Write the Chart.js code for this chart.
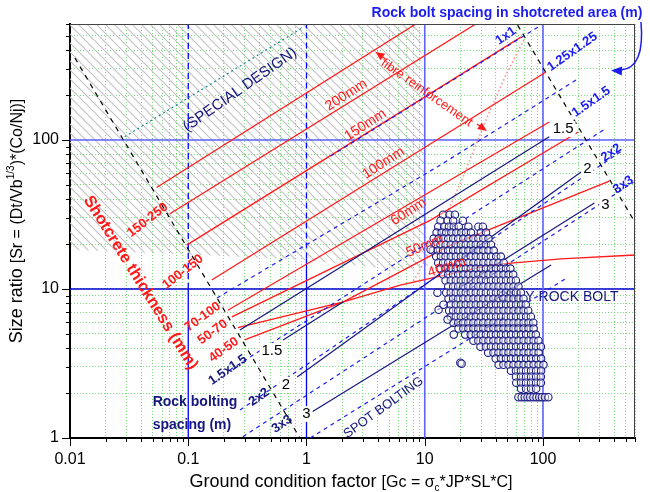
<!DOCTYPE html>
<html><head><meta charset="utf-8">
<script src="https://cdn.jsdelivr.net/npm/chart.js@4.4.0/dist/chart.umd.min.js"></script>
<style>html,body{margin:0;padding:0;background:#fff}</style>
</head><body>
<canvas id="c" width="650" height="492"></canvas>
<script>
// ---------------- axis ticks ----------------
const xTickLabels = ['0.01', '0.1', '1', '10', '100'];
const yTickLabels = ['1', '10', '100'];
const xExponents = [-2, -1, 0, 1, 2];
const yExponents = [0, 1, 2];
const minorSteps = [1, 2, 3, 4, 5, 6, 7, 8, 9];

// ---------------- boundaries ----------------
const leftBoundary = [[0.011, 355], [0.88, 1.0]];
const rightBoundary = [[61, 590], [600, 28]];
const specialDesignEdge = [[0.029, 105], [0.92, 565]];
const fibreEdge = [[69, 469], [48.6, 273], [32.9, 136], [21.4, 58.2], [15.6, 32.9], [11.2, 18.3], [7.9, 11.0]];
const hatchArea = [[0.01, 600], [9.2, 600], [10.6, 14], [6.24, 13.4], [0.88, 15.7], [0.125, 16.9], [0.01, 18.3], [0.01, 600]];

// ---------------- shotcrete thickness lines ----------------
const shotcreteTop = [[0.054, 48], [8.4, 600]];
const shotcrete200 = [[0.07, 32], [27, 600]];
const shotcrete150 = [[0.097, 19.7], [65, 490]];
const shotcrete100 = [[0.158, 11.5], [106, 286]];
const shotcrete60a = [[0.216, 7.2], [113, 132]];
const shotcrete60b = [[0.234, 6.5], [11.2, 29], [199, 113]];
const shotcrete50 = [[0.263, 5.5], [2.05, 8.2], [16.6, 19.7], [364, 53]];
const shotcrete40 = [[0.30, 4.55], [2.05, 8.2], [6.2, 10.6], [36, 14.5], [142, 15.9], [600, 16.9]];

// ---------------- rock bolt lines ----------------
const boltSolid15 = [[0.274, 5.3], [113, 105]];
const boltSolid15b = [[0.634, 4.55], [2.05, 8.2]];
const boltSolid2 = [[0.834, 2.57], [210, 61]];
const boltSolid3a = [[1.075, 1.47], [117, 14.5]];
const boltSolid3b = [[18.3, 9.85], [272, 37.8]];
const boltDash1x1 = [[1.6, 78], [100, 600]];
const boltDash125 = [[0.175, 8.7], [13.6, 68], [191, 253]];
const boltDash15 = [[0.225, 2.86], [343, 120]];
const boltDash2 = [[0.274, 1.54], [479, 86]];
const boltDash3 = [[0.29, 1.02], [582, 52]];
const boltDashSpot = [[1.075, 1.0], [163, 12]];

// ---------------- case records (Gc, Sr) ----------------
const cloudRowY = [31.5, 28.7, 26.2, 23.9, 21.8, 19.8, 18.1, 16.5, 15.0, 13.7, 12.5, 11.4, 10.4, 9.44, 8.61, 7.85, 7.15, 6.52, 5.94, 5.42, 4.94, 4.50, 4.10, 3.74, 3.41, 3.10, 2.83, 2.58, 2.35, 2.14, 1.88];
const cloudRowX = [
  [14.3, 16.2, 18.0],
  [13.6, 15.6, 17.4, 21.0],
  [13.0, 14.6, 16.0, 17.6, 19.4, 23.4, 28.4, 31.0],
  [12.6, 13.9, 15.2, 16.8, 18.5, 20.4, 22.3, 24.6, 29.8, 33.0],
  [11.9, 13.1, 14.4, 15.8, 17.4, 19.2, 21.2, 23.4, 25.8, 28.4, 31.3, 34.6],
  [12.4, 13.6, 15.0, 16.6, 18.3, 20.2, 22.2, 24.5, 27.0, 29.8, 32.9, 36.3],
  [11.7, 12.9, 14.3, 15.8, 17.4, 19.2, 21.2, 23.4, 25.8, 28.4, 31.3, 34.6, 38.3],
  [12.5, 13.7, 15.0, 16.6, 18.3, 20.2, 22.2, 24.5, 27.0, 29.8, 32.9, 36.3, 40.2, 44.0],
  [13.0, 14.3, 15.8, 17.4, 19.2, 21.2, 23.4, 25.8, 28.4, 31.3, 34.6, 38.1, 42.0, 46.5],
  [13.6, 15.0, 16.6, 18.3, 20.2, 22.2, 24.5, 27.0, 29.8, 32.9, 36.3, 40.0, 44.1, 48.6, 53.0],
  [14.3, 15.8, 17.4, 19.2, 21.2, 23.4, 25.8, 28.4, 31.3, 34.6, 38.1, 42.0, 46.3, 51.1, 56.0],
  [15.0, 16.6, 18.3, 20.2, 22.2, 24.5, 27.0, 29.8, 32.9, 36.3, 40.0, 44.1, 48.6, 53.6, 59.0],
  [15.8, 17.4, 19.2, 21.2, 23.4, 25.8, 28.4, 31.3, 34.6, 38.1, 42.0, 46.3, 51.1, 56.3, 62.0],
  [15.2, 16.6, 18.3, 20.2, 22.2, 24.5, 27.0, 29.8, 32.9, 36.3, 40.0, 44.1, 48.6, 53.6, 59.1, 65.0],
  [15.9, 17.4, 19.2, 21.2, 23.4, 25.8, 28.4, 31.3, 34.6, 38.1, 42.0, 46.3, 51.1, 56.3, 62.1, 68.4],
  [16.6, 18.3, 20.2, 22.2, 24.5, 27.0, 29.8, 32.9, 36.3, 40.0, 44.1, 48.6, 53.6, 59.1, 65.2, 71.6],
  [16.1, 17.4, 19.2, 21.2, 23.4, 25.8, 28.4, 31.3, 34.6, 38.1, 42.0, 46.3, 51.1, 56.3, 62.1, 68.5, 75.0],
  [16.6, 18.3, 20.2, 22.2, 24.5, 27.0, 29.8, 32.9, 36.3, 40.0, 44.1, 48.6, 53.6, 59.1, 65.2, 71.9, 79.0],
  [17.5, 19.2, 21.2, 23.4, 25.8, 28.4, 31.3, 34.6, 38.1, 42.0, 46.3, 51.1, 56.3, 62.1, 68.5, 75.5, 82.8],
  [19.3, 21.2, 23.4, 25.8, 28.4, 31.3, 34.6, 38.1, 42.0, 46.3, 51.1, 56.3, 62.1, 68.5, 75.5, 83.3],
  [22.0, 24.5, 27.0, 29.8, 32.9, 36.3, 40.0, 44.1, 48.6, 53.6, 59.1, 65.2, 71.9, 79.3, 87.0],
  [25.8, 28.4, 31.3, 34.6, 38.1, 42.0, 46.3, 51.1, 56.3, 62.1, 68.5, 75.5, 83.3, 91.5],
  [29.6, 32.9, 36.3, 40.0, 44.1, 48.6, 53.6, 59.1, 65.2, 71.9, 79.3, 87.5, 96.0],
  [34.4, 38.1, 42.0, 46.3, 51.1, 56.3, 62.1, 68.5, 75.5, 83.3, 91.8],
  [39.8, 44.1, 48.6, 53.6, 59.1, 65.2, 71.9, 79.3, 87.5, 96.4],
  [42.2, 46.3, 51.1, 56.3, 62.1, 68.5, 75.5, 83.3, 91.8, 101],
  [53.6, 59.1, 65.2, 71.9, 79.3, 87.5, 96.4],
  [59.1, 65.2, 71.9, 79.3, 87.5, 96.0],
  [59.4, 65.2, 71.9, 79.3, 87.5, 96.0],
  [65.2, 71.9, 79.3, 87.5],
  [62, 66, 70, 74, 78, 83, 88, 93, 98, 104, 111]
];
const cloudOutliers = [[11.2, 18.4], [12.8, 9.45], [13.1, 7.25], [14.4, 7.85], [15.6, 6.23], [17.6, 4.94], [20.0, 3.2], [20.5, 3.15]];

// ---------------- styling ----------------
const FONT = '"Liberation Sans", Arial, Helvetica, sans-serif';
const RED = '#ff1a1a', NAVY = '#16167e', BLUE = '#1c1cf0', LBLUE = '#6060ff';

const pts = arr => arr.map(p => ({x: p[0], y: p[1]}));
function lineDs(arr, color, width, dash, order) {
  return {data: pts(arr), showLine: true, borderColor: color, borderWidth: width,
    borderDash: dash || [], pointRadius: 0, fill: false, tension: 0, order: order || 5};
}

const canvas = document.getElementById('c');
function makeHatch() {
  const s = 9, c = document.createElement('canvas');
  c.width = s; c.height = s;
  const g = c.getContext('2d');
  g.strokeStyle = '#c2c2c2'; g.lineWidth = 1.1;
  g.beginPath();
  g.moveTo(-1, -1); g.lineTo(s + 1, s + 1);
  g.moveTo(-2, s - 2); g.lineTo(2, s + 2);
  g.moveTo(s - 2, -2); g.lineTo(s + 2, 2);
  g.stroke();
  return canvas.getContext('2d').createPattern(c, 'repeat');
}

const cloud = [];
cloudRowY.forEach((y, i) => cloudRowX[i].forEach(x => cloud.push({x, y})));
cloudOutliers.forEach(p => cloud.push({x: p[0], y: p[1]}));

const datasets = [
  {data: pts(hatchArea), showLine: true, borderWidth: 0, borderColor: 'rgba(0,0,0,0)',
   backgroundColor: makeHatch(), fill: 'shape', pointRadius: 0, order: 20},
  // decade reference lines
  lineDs([[0.1, 10], [0.1, 600]], '#0000ff', 1.3, [6, 4], 15),
  lineDs([[0.1, 1], [0.1, 10]], '#0000ff', 1.3, [], 15),
  lineDs([[1, 16], [1, 600]], '#0000ff', 1.3, [6, 4], 15),
  lineDs([[1, 1], [1, 16]], '#0000ff', 1.3, [], 15),
  lineDs([[10, 1], [10, 600]], LBLUE, 1.6, [], 15),
  lineDs([[100, 1], [100, 600]], LBLUE, 1.6, [], 15),
  lineDs([[0.01, 100], [600, 100]], LBLUE, 1.6, [], 15),
  lineDs([[0.01, 10], [600, 10]], '#0000d0', 1.3, [], 15),
  // boundaries
  lineDs(leftBoundary, '#000', 1.2, [5, 5], 6),
  lineDs(rightBoundary, '#000', 1.2, [5, 5], 6),
  lineDs(specialDesignEdge, '#138a8a', 1.2, [2, 3], 6),
  lineDs(fibreEdge, '#ff8f8f', 1.6, [1.5, 2.5], 6),
  // shotcrete
  lineDs(shotcreteTop, RED, 1.3),
  lineDs(shotcrete200, RED, 1.3),
  lineDs(shotcrete150, RED, 1.3),
  lineDs(shotcrete100, RED, 1.3),
  lineDs(shotcrete60a, RED, 1.3),
  lineDs(shotcrete60b, RED, 1.3),
  lineDs(shotcrete50, RED, 1.3),
  lineDs(shotcrete40, RED, 1.3),
  // bolts
  lineDs(boltSolid15, NAVY, 1.2, [], 4),
  lineDs(boltSolid15b, NAVY, 1.2, [], 4),
  lineDs(boltSolid2, NAVY, 1.2, [], 4),
  lineDs(boltSolid3a, NAVY, 1.2, [], 4),
  lineDs(boltSolid3b, NAVY, 1.2, [], 4),
  lineDs(boltDash1x1, BLUE, 1.2, [4, 4], 3),
  lineDs(boltDash125, BLUE, 1.2, [4, 4], 3),
  lineDs(boltDash15, BLUE, 1.2, [4, 4], 3),
  lineDs(boltDash2, BLUE, 1.2, [4, 4], 3),
  lineDs(boltDash3, BLUE, 1.2, [4, 4], 3),
  lineDs(boltDashSpot, BLUE, 1.2, [4, 4], 3),
  // data
  {data: cloud, showLine: false, pointRadius: 3.7, pointBorderWidth: 1.1,
   pointBorderColor: '#1a1a80', pointBackgroundColor: 'rgba(255,255,255,0.45)', order: 1}
];

function tickValues(exps, max) {
  const out = [];
  exps.forEach(e => minorSteps.forEach(m => {
    const v = Number((m * Math.pow(10, e)).toPrecision(6));
    if (v <= max) out.push(v);
  }));
  if (out[out.length - 1] < max) out.push(max);
  return out;
}
function isDecade(v) { const l = Math.log10(v); return Math.abs(l - Math.round(l)) < 1e-6; }

const labels = [
  {t: '(SPECIAL DESIGN)', at: [0.274, 217], rot: -35, font: '15px', color: NAVY},
  {t: '200mm', at: [2.17, 200], rot: -33, font: '14px', color: RED},
  {t: '150mm', at: [3.15, 126], rot: -33, font: '14px', color: RED},
  {t: '100mm', at: [4.48, 70], rot: -33, font: '14px', color: RED},
  {t: '60mm', at: [7.3, 33], rot: -33, font: '14px', color: RED},
  {t: '50mm', at: [10, 19.4], rot: -22, font: '14px', color: RED},
  {t: '40mm', at: [15.3, 14], rot: -18, font: '14px', color: RED},
  {t: 'fibre reinforcement', at: [10.4, 207], rot: 35, font: '13px', color: RED},
  {t: 'Shotcrete thickness (mm)', at: [0.0395, 11.0], rot: 58, font: 'bold 16.5px', color: RED},
  {t: '150-250', at: [0.0453, 29], rot: -38, font: 'bold 13px', color: RED},
  {t: '100-150', at: [0.09, 13], rot: -38, font: 'bold 13px', color: RED},
  {t: '70-100', at: [0.133, 6.5], rot: -36, font: 'bold 13px', color: RED},
  {t: '50-70', at: [0.161, 5.14], rot: -36, font: 'bold 13px', color: RED},
  {t: '40-50', at: [0.2, 3.9], rot: -36, font: 'bold 13px', color: RED},
  {t: '1.5x1.5', at: [0.216, 2.86], rot: -35, font: 'bold 13px', color: NAVY},
  {t: '2x2', at: [0.397, 1.88], rot: -35, font: 'bold 13px', color: NAVY},
  {t: '3x3', at: [0.622, 1.24], rot: -35, font: 'bold 13px', color: NAVY},
  {t: 'Rock bolting', at: [0.05, 1.745], align: 'left', font: 'bold 14px', color: NAVY},
  {t: 'spacing (m)', at: [0.05, 1.22], align: 'left', font: 'bold 14px', color: NAVY},
  {t: '1.5', at: [0.51, 3.84], font: '15px', color: '#000', bg: true},
  {t: '2', at: [0.67, 2.27], font: '15px', color: '#000', bg: true},
  {t: '3', at: [1.0, 1.45], font: '15px', color: '#000', bg: true},
  {t: '1.5', at: [148, 118.5], font: '15px', color: '#000', bg: true},
  {t: '2', at: [237, 64], font: '15px', color: '#000', bg: true},
  {t: '3', at: [337, 36.6], font: '15px', color: '#000', bg: true},
  {t: '1x1', at: [48.6, 499], rot: -35, font: 'bold 13px', color: BLUE},
  {t: '1.25x1.25', at: [177, 390], rot: -35, font: 'bold 13px', color: BLUE},
  {t: '1.5x1.5', at: [256, 180], rot: -35, font: 'bold 13px', color: BLUE},
  {t: '2x2', at: [378, 82], rot: -35, font: 'bold 13px', color: BLUE},
  {t: '3x3', at: [478, 50], rot: -35, font: 'bold 13px', color: BLUE},
  {t: 'SPOT BOLTING', at: [4.48, 1.6], rot: -36, font: '13px', color: NAVY}
];

function drawText(ctx, s, x, y, o) {
  ctx.save();
  ctx.translate(x, y);
  if (o.rot) ctx.rotate(o.rot * Math.PI / 180);
  ctx.font = o.font + ' ' + FONT;
  ctx.textAlign = o.align || 'center';
  ctx.textBaseline = 'middle';
  if (o.bg) {
    const w = ctx.measureText(s).width;
    ctx.fillStyle = '#fff';
    ctx.fillRect(-w / 2 - 2, -8, w + 4, 16);
  }
  ctx.fillStyle = o.color;
  ctx.fillText(s, 0, 0);
  ctx.restore();
}
function arrowHead(ctx, x, y, ang, color, len, half) {
  ctx.save();
  ctx.translate(x, y); ctx.rotate(ang);
  ctx.fillStyle = color;
  ctx.beginPath(); ctx.moveTo(0, 0); ctx.lineTo(-len, -half); ctx.lineTo(-len, half); ctx.closePath(); ctx.fill();
  ctx.restore();
}

const decor = {
  id: 'decor',
  beforeDatasetsDraw(chart) {
    const {ctx, scales: {x, y}} = chart;
    drawText(ctx, 'ONLY ROCK BOLT', x.getPixelForValue(134), y.getPixelForValue(8.84), {font: '14px', color: NAVY});
  },
  afterDatasetsDraw(chart) {
    const {ctx, scales: {x, y}} = chart;
    labels.forEach(l => drawText(ctx, l.t, x.getPixelForValue(l.at[0]), y.getPixelForValue(l.at[1]), l));
    const a = 35 * Math.PI / 180;
    const p1 = [x.getPixelForValue(3.83), y.getPixelForValue(390)];
    const p2 = [x.getPixelForValue(33.5), y.getPixelForValue(115)];
    ctx.save(); ctx.strokeStyle = RED; ctx.lineWidth = 1.2;
    ctx.beginPath();
    ctx.moveTo(p1[0] + 12 * Math.cos(a), p1[1] + 12 * Math.sin(a)); ctx.lineTo(p1[0] + 6 * Math.cos(a), p1[1] + 6 * Math.sin(a));
    ctx.moveTo(p2[0] - 12 * Math.cos(a), p2[1] - 12 * Math.sin(a)); ctx.lineTo(p2[0] - 6 * Math.cos(a), p2[1] - 6 * Math.sin(a));
    ctx.stroke(); ctx.restore();
    arrowHead(ctx, p1[0], p1[1], a + Math.PI, RED, 9, 4);
    arrowHead(ctx, p2[0], p2[1], a, RED, 9, 4);
  },
  afterDraw(chart) {
    const {ctx, chartArea: ca, scales: {x, y}} = chart;
    ctx.save();
    ctx.strokeStyle = '#000'; ctx.lineWidth = 1;
    ctx.beginPath();
    x.ticks.forEach(t => {
      const px = Math.round(x.getPixelForValue(t.value)) + 0.5;
      const len = isDecade(t.value) ? 8 : 4;
      ctx.moveTo(px, ca.bottom); ctx.lineTo(px, ca.bottom + len);
    });
    y.ticks.forEach(t => {
      const py = Math.round(y.getPixelForValue(t.value)) + 0.5;
      const len = isDecade(t.value) ? 8 : 4;
      ctx.moveTo(ca.left, py); ctx.lineTo(ca.left - len, py);
    });
    ctx.stroke();
    ctx.strokeStyle = '#444'; ctx.lineWidth = 1;
    ctx.beginPath();
    ctx.moveTo(ca.left, ca.top + 0.5); ctx.lineTo(ca.right, ca.top + 0.5);
    ctx.moveTo(ca.right - 0.5, ca.top); ctx.lineTo(ca.right - 0.5, ca.bottom);
    ctx.stroke();
    ctx.fillStyle = '#000'; ctx.textBaseline = 'alphabetic'; ctx.textAlign = 'left';
    const xt = [['Ground condition factor ', '18px', 0], ['[Gc = \u03c3', '16px', 0], ['c', '10px', 4], ['*JP*SL*C]', '16px', 0]];
    let w = 0;
    xt.forEach(s => { ctx.font = s[1] + ' ' + FONT; w += ctx.measureText(s[0]).width; });
    let cx = 351 - w / 2;
    xt.forEach(s => { ctx.font = s[1] + ' ' + FONT; ctx.fillText(s[0], cx, 487 + s[2]); cx += ctx.measureText(s[0]).width; });
    ctx.save();
    ctx.translate(22, 221); ctx.rotate(-Math.PI / 2);
    const yt = [['Size ratio ', '18px', 0], ['[Sr = (Dt/Vb', '16px', 0], ['1/3', '10px', -8], [')*(Co/Nj)]', '16px', 0]];
    w = 0;
    yt.forEach(s => { ctx.font = s[1] + ' ' + FONT; w += ctx.measureText(s[0]).width; });
    cx = -w / 2;
    yt.forEach(s => { ctx.font = s[1] + ' ' + FONT; ctx.fillText(s[0], cx, s[2]); cx += ctx.measureText(s[0]).width; });
    ctx.restore();
    ctx.fillStyle = BLUE; ctx.font = 'bold 14px ' + FONT; ctx.textAlign = 'center';
    ctx.fillText('Rock bolt spacing in shotcreted area (m)', x.getPixelForValue(49.6), ca.top - 7);
    ctx.strokeStyle = BLUE; ctx.lineWidth = 1.5;
    ctx.beginPath();
    ctx.moveTo(ca.right + 6, ca.top - 2);
    ctx.quadraticCurveTo(ca.right + 10, ca.top + 44, ca.right - 14, ca.top + 46);
    ctx.stroke();
    ctx.restore();
    arrowHead(ctx, ca.right - 24, ca.top + 46.5, Math.PI + 0.05, BLUE, 11, 4.5);
  }
};

new Chart(canvas, {
  type: 'scatter',
  data: {datasets},
  options: {
    responsive: false, animation: false, devicePixelRatio: 1,
    layout: {padding: {top: 24, right: 15, left: 0, bottom: 0}},
    plugins: {legend: {display: false}, tooltip: {enabled: false}},
    scales: {
      x: {
        type: 'logarithmic', min: 0.01, max: 600,
        afterBuildTicks: s => { s.ticks = tickValues(xExponents, 600).map(v => ({value: v})); },
        afterFit: s => { s.height = 54; },
        grid: {color: '#78dc78', lineWidth: 1, drawTicks: true, tickLength: 8, tickColor: 'rgba(0,0,0,0)'},
        border: {display: true, color: '#000', width: 2, dash: [1, 2]},
        ticks: {autoSkip: false, maxRotation: 0, padding: 4, color: '#000', font: {family: FONT, size: 16},
          callback: v => isDecade(v) ? (xTickLabels[xExponents.indexOf(Math.round(Math.log10(v)))] || '') : ''}
      },
      y: {
        type: 'logarithmic', min: 1, max: 600,
        afterBuildTicks: s => { s.ticks = tickValues(yExponents, 600).map(v => ({value: v})); },
        afterFit: s => { s.width = 70; },
        grid: {color: '#78dc78', lineWidth: 1, drawTicks: true, tickLength: 8, tickColor: 'rgba(0,0,0,0)'},
        border: {display: true, color: '#000', width: 2, dash: [1, 2]},
        ticks: {autoSkip: false, padding: 3, color: '#000', font: {family: FONT, size: 16},
          callback: v => isDecade(v) ? (yTickLabels[yExponents.indexOf(Math.round(Math.log10(v)))] || '') : ''}
      }
    }
  },
  plugins: [decor]
});
</script>
</body></html>
